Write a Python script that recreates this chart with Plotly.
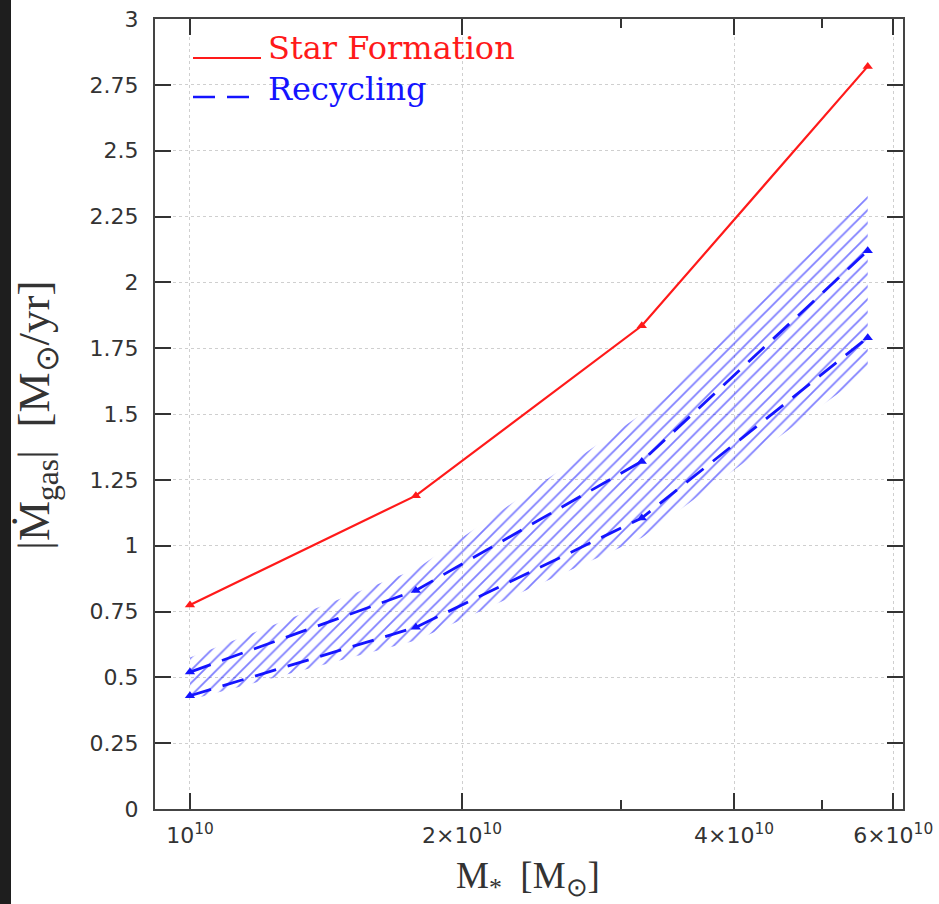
import plotly.graph_objects as go

# ---- data ----
mass = [1.0e10, 1.778e10, 3.162e10, 5.623e10]
star_formation = [0.775, 1.19, 1.835, 2.82]
recycling_hi = [0.52, 0.83, 1.32, 2.12]
recycling_lo = [0.43, 0.69, 1.105, 1.79]
band_hi = [0.575, 0.91, 1.50, 2.33]
band_lo = [0.415, 0.64, 1.03, 1.66]

x_tickvals = [1e10, 2e10, 4e10, 6e10]
x_ticktext = ["10<sup>10</sup>", "2×10<sup>10</sup>", "4×10<sup>10</sup>", "6×10<sup>10</sup>"]
x_minor = [3e10, 5e10]
y_tickvals = [0, 0.25, 0.5, 0.75, 1, 1.25, 1.5, 1.75, 2, 2.25, 2.5, 2.75, 3]
y_ticktext = ["0", "0.25", "0.5", "0.75", "1", "1.25", "1.5", "1.75", "2", "2.25", "2.5", "2.75", "3"]

RED = "#ff1a1a"
BLUE = "#1414ff"

fig = go.Figure()

# hatched band
fig.add_trace(go.Scatter(x=mass, y=band_lo, mode="lines", line=dict(width=0),
                         showlegend=False, hoverinfo="skip"))
fig.add_trace(go.Scatter(x=mass, y=band_hi, mode="lines", line=dict(width=0),
                         fill="tonexty", fillcolor="rgba(0,0,0,0)",
                         fillpattern=dict(shape="/", fgcolor="#0000ff", bgcolor="rgba(0,0,0,0)",
                                          size=9, solidity=0.2),
                         showlegend=False, hoverinfo="skip"))

for ys in (recycling_hi, recycling_lo):
    fig.add_trace(go.Scatter(x=mass, y=ys, mode="lines+markers",
                             line=dict(color=BLUE, width=2.8, dash="22px,12px"),
                             marker=dict(symbol="triangle-up", size=9, color=BLUE),
                             showlegend=False))

fig.add_trace(go.Scatter(x=mass, y=star_formation, mode="lines+markers",
                         line=dict(color=RED, width=2.2),
                         marker=dict(symbol="triangle-up", size=9, color=RED),
                         showlegend=False))

W, H = 939, 904
L, R, T, B = 155, 36, 19, 95
pw, ph = W - L - R, H - T - B

def px(x):
    return (x - L) / pw

def py(y):
    return 1 - (y - T) / ph

shapes = [
    # dark strip on the left edge of the image
    dict(type="rect", xref="paper", yref="paper", x0=px(-5), x1=px(11), y0=py(H + 5), y1=py(-5),
         fillcolor="#1e1e1e", line=dict(width=0), layer="below"),
    # legend samples
    dict(type="line", xref="paper", yref="paper", x0=px(193), x1=px(261), y0=py(58), y1=py(58),
         line=dict(color=RED, width=2)),
    dict(type="line", xref="paper", yref="paper", x0=px(193), x1=px(261), y0=py(97), y1=py(97),
         line=dict(color=BLUE, width=2.5, dash="22px,12px")),
]

annotations = [
    dict(xref="paper", yref="paper", x=px(266), y=py(48), text="Star Formation", showarrow=False,
         xanchor="left", yanchor="middle", font=dict(family="DejaVu Serif", size=32, color=RED)),
    dict(xref="paper", yref="paper", x=px(266), y=py(89), text="Recycling", showarrow=False,
         xanchor="left", yanchor="middle", font=dict(family="DejaVu Serif", size=32, color=BLUE)),
    # axis titles
    dict(xref="paper", yref="paper", x=px(528), y=py(878), text="M<sub>*</sub>  [M<sub>⊙</sub>]",
         showarrow=False, xanchor="center", yanchor="middle",
         font=dict(family="Liberation Serif", size=37, color="#333")),
    dict(xref="paper", yref="paper", x=px(37), y=py(415), text="|Ṁ<sub>gas</sub>|  [M<sub>⊙</sub>/yr]",
         showarrow=False, xanchor="center", yanchor="middle", textangle=-90,
         font=dict(family="Liberation Serif", size=45, color="#333")),
]

fig.update_layout(
    width=W, height=H,
    margin=dict(l=L, r=R, t=T, b=B, autoexpand=False),
    paper_bgcolor="white", plot_bgcolor="white",
    shapes=shapes, annotations=annotations,
    showlegend=False,
    xaxis=dict(
        type="log", range=[9.9613, 10.789], automargin=False,
        tickvals=x_tickvals, ticktext=x_ticktext,
        ticks="inside", ticklen=16, tickwidth=1.5, tickcolor="#333",
        showline=True, linecolor="#444", linewidth=2, mirror="ticks",
        showgrid=True, gridcolor="#cfcfcf", griddash="dot", gridwidth=1,
        zeroline=False, ticklabelstandoff=6,
        tickfont=dict(family="DejaVu Sans", size=22, color="#333"),
        minor=dict(tickvals=x_minor, ticks="inside", ticklen=9, tickwidth=1.5, tickcolor="#333",
                   showgrid=False),
    ),
    yaxis=dict(
        range=[0, 3], automargin=False,
        tickvals=y_tickvals, ticktext=y_ticktext,
        ticks="inside", ticklen=16, tickwidth=1.5, tickcolor="#333",
        showline=True, linecolor="#444", linewidth=2, mirror="ticks",
        showgrid=True, gridcolor="#cfcfcf", griddash="dot", gridwidth=1,
        zeroline=False, ticklabelstandoff=10,
        tickfont=dict(family="DejaVu Sans", size=22, color="#333"),
    ),
)

fig.write_html("out.html")
